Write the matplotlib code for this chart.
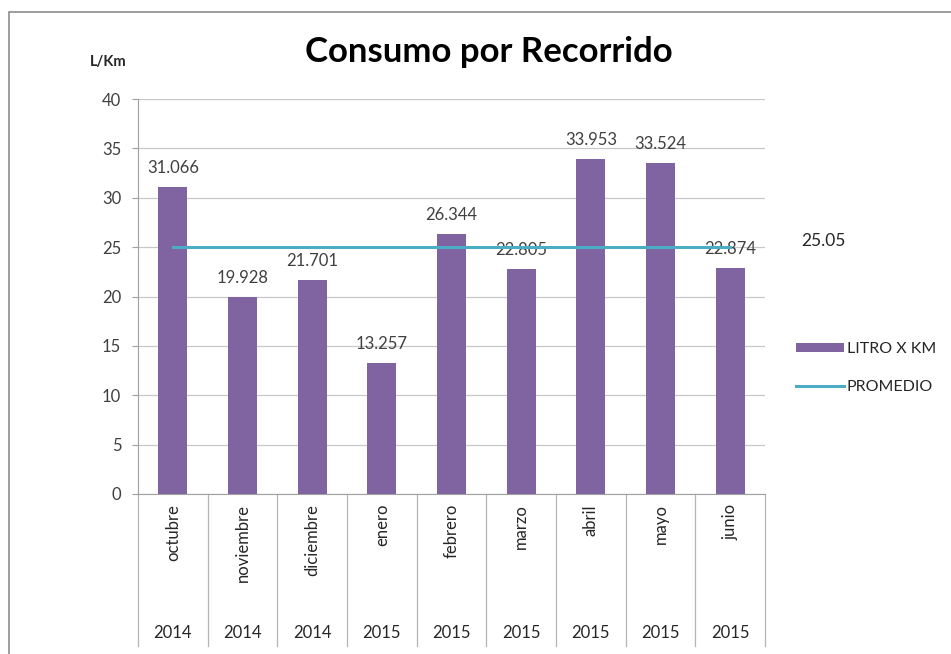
import matplotlib
matplotlib.use("Agg")
import matplotlib.pyplot as plt
from matplotlib.patches import Rectangle
from matplotlib.lines import Line2D
import numpy as np

plt.rcParams['font.family'] = ['Lato', 'DejaVu Sans']

months = ["octubre", "noviembre", "diciembre", "enero", "febrero", "marzo", "abril", "mayo", "junio"]
years = ["2014", "2014", "2014", "2015", "2015", "2015", "2015", "2015", "2015"]
litro_x_km = [31.066, 19.928, 21.701, 13.257, 26.344, 22.805, 33.953, 33.524, 22.874]
promedio = 25.05
yticks = [0, 5, 10, 15, 20, 25, 30, 35, 40]

W, H = 951, 654
fig = plt.figure(figsize=(W / 100, H / 100), dpi=100)
fig.patch.set_facecolor("white")

# outer chart border
fig.add_artist(Rectangle((9 / W, -0.1), 1.2, 1 - 12 / H + 0.1, transform=fig.transFigure,
                         fill=False, edgecolor="#8c8c8c", linewidth=1.2))

ax = fig.add_axes([138 / W, (H - 494) / H, 627 / W, 395 / H])
x = np.arange(len(months))
bar_color = "#8064A2"
line_color = "#4BACC6"

bars = ax.bar(x, litro_x_km, width=0.42, color=bar_color, zorder=3, label="LITRO X KM")
line, = ax.plot(x, [promedio] * len(x), color=line_color, linewidth=2.2, zorder=4, label="PROMEDIO")

for xi, v in zip(x, litro_x_km):
    ax.annotate(f"{v:.3f}", xy=(xi, v), xytext=(0, 8), textcoords="offset points",
                ha="center", va="bottom", fontsize=12, color="#404040")

ax.annotate(f"{promedio:.2f}", xy=(1, promedio), xycoords=("axes fraction", "data"),
            xytext=(26, 4), textcoords="offset points", ha="left", va="center",
            fontsize=12.5, color="#262626")

ax.set_xlim(-0.5, len(x) - 0.5)
ax.set_ylim(0, 40)
ax.set_yticks(yticks)
ax.set_yticklabels([str(t) for t in yticks], fontsize=12, color="#404040")
ax.grid(axis="y", color="#c8c8c8", linewidth=0.9, zorder=0)
ax.set_axisbelow(True)
for s in ["top", "right"]:
    ax.spines[s].set_visible(False)
ax.spines["left"].set_color("#a0a0a0")
ax.spines["bottom"].set_color("#a0a0a0")
ax.tick_params(axis="y", length=4, color="#a0a0a0", pad=8)
ax.set_xticks([])

# hierarchical category axis
trans = ax.get_xaxis_transform()
axis_h_px = 395
def yfrac(px_below):
    return -px_below / axis_h_px
for b in np.arange(-0.5, len(x), 1.0):
    ax.add_line(Line2D([b, b], [0, yfrac(152)], transform=trans, color="#b4b4b4",
                       linewidth=0.9, clip_on=False))
for xi, m, yr in zip(x, months, years):
    ax.text(xi, yfrac(10), m, transform=trans, rotation=90, ha="center", va="top",
            fontsize=12, color="#262626")
    ax.text(xi, yfrac(139), yr, transform=trans, ha="center", va="center",
            fontsize=12, color="#262626")

fig.text(90 / W, 1 - 62 / H, "L/Km", ha="left", va="center", fontsize=10.5,
         fontweight="bold", color="#262626")
fig.text(489 / W, 1 - 52 / H, "Consumo por Recorrido", ha="center", va="center",
         fontsize=25, fontweight="bold", color="#000000")

fig.legend([bars, line], ["LITRO X KM", "PROMEDIO"], loc="center left",
           bbox_to_anchor=(782 / W, 1 - 368 / H),
           frameon=False, fontsize=11.5, handlelength=3.0, handleheight=0.45,
           handletextpad=0.15, labelspacing=1.5, labelcolor="#262626")

fig.savefig("out.png", dpi=100)
